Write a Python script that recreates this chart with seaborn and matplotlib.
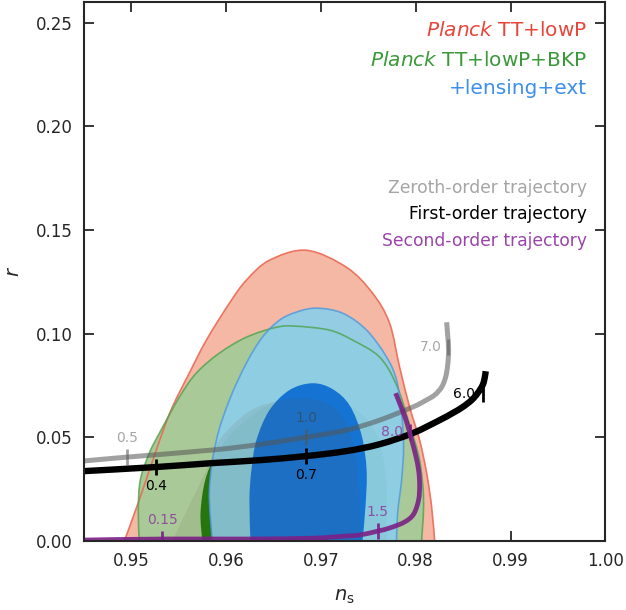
import numpy as np
import matplotlib
matplotlib.use("Agg")
import matplotlib.pyplot as plt
from matplotlib.path import Path
from matplotlib.patches import PathPatch
import seaborn as sns

# --- contour outlines (n_s, r) ---
red95_ns = [0.94926, 0.95084, 0.95300, 0.95433, 0.95612, 0.95792, 0.96035, 0.96214, 0.96457,
            0.96848, 0.97270, 0.97545, 0.97724, 0.97830, 0.97936, 0.98041, 0.98115, 0.98168, 0.98200]
red95_r = [0.000, 0.0198, 0.0487, 0.0646, 0.0810, 0.0969, 0.1147, 0.1258, 0.1354,
           0.1402, 0.1320, 0.1195, 0.1051, 0.0839, 0.0646, 0.0487, 0.0328, 0.0164, 0.000]

red68_ns = [0.95433, 0.95612, 0.95792, 0.95929, 0.96214, 0.96457, 0.96742, 0.97038,
            0.97249, 0.97376, 0.97408, 0.97418]
red68_r = [0.000, 0.0173, 0.0342, 0.0487, 0.0617, 0.0665, 0.0689, 0.0670,
           0.0583, 0.0390, 0.0198, 0.000]

green95_ns = [0.95084, 0.95074, 0.95095, 0.95190, 0.95296, 0.95507, 0.95686, 0.95929, 0.96214,
              0.96531, 0.96742, 0.97091, 0.97334, 0.97619, 0.97798, 0.97936, 0.98041, 0.98083, 0.98062]
green95_r = [0.000, 0.0149, 0.0294, 0.0424, 0.0520, 0.0694, 0.0810, 0.0906, 0.0983,
             0.1031, 0.1036, 0.1017, 0.0969, 0.0887, 0.0752, 0.0559, 0.0390, 0.0198, 0.000]

green68_ns = [0.95750, 0.95730, 0.95780, 0.95890, 0.96100, 0.96470, 0.96890, 0.97310,
              0.97580, 0.97690, 0.97690]
green68_r = [0.000, 0.0135, 0.0294, 0.0410, 0.0540, 0.0660, 0.0700, 0.0650,
             0.0520, 0.0290, 0.000]

blue95_ns = [0.95855, 0.95824, 0.95898, 0.96035, 0.96214, 0.96383, 0.96563, 0.96742, 0.96953,
             0.97228, 0.97482, 0.97693, 0.97798, 0.97851, 0.97872, 0.97851, 0.97809, 0.97798]
blue95_r = [0.000, 0.0246, 0.0487, 0.0680, 0.0858, 0.0983, 0.1065, 0.1104, 0.1123,
            0.1099, 0.1017, 0.0887, 0.0776, 0.0617, 0.0453, 0.0294, 0.0135, 0.000]

blue68_ns = [0.96257, 0.96246, 0.96267, 0.96320, 0.96457, 0.96668, 0.96911, 0.97122,
             0.97302, 0.97429, 0.97482, 0.97471, 0.97439]
blue68_r = [0.000, 0.0198, 0.0342, 0.0487, 0.0631, 0.0728, 0.0761, 0.0733,
            0.0655, 0.0511, 0.0342, 0.0173, 0.000]

# --- trajectories ---
zeroth_ns = [0.94493, 0.94958, 0.95855, 0.96352, 0.96848, 0.97270, 0.97619, 0.97967,
             0.98093, 0.98199, 0.98273, 0.98315, 0.98337, 0.98347, 0.98337, 0.98326]
zeroth_r = [0.0386, 0.0405, 0.0439, 0.0466, 0.0501, 0.0535, 0.0583, 0.0646,
            0.0675, 0.0704, 0.0742, 0.0790, 0.0848, 0.0920, 0.0993, 0.1055]

first_ns = [0.94493, 0.95264, 0.95855, 0.96352, 0.96848, 0.97270, 0.97619, 0.97967,
            0.98252, 0.98389, 0.98495, 0.98590, 0.98653, 0.98706, 0.98727, 0.98738]
first_r = [0.0337, 0.0357, 0.0376, 0.0390, 0.0410, 0.0434, 0.0467, 0.0520,
           0.0583, 0.0617, 0.0646, 0.0680, 0.0713, 0.0752, 0.0786, 0.0819]

second_ns = [0.94493, 0.95327, 0.96246, 0.96911, 0.97249, 0.97408, 0.97598, 0.97725, 0.97883,
             0.97978, 0.98030, 0.98041, 0.98030, 0.97999, 0.97957, 0.97904, 0.97851, 0.97788]
second_r = [0.0005, 0.0010, 0.0010, 0.0014, 0.0024, 0.0029, 0.0048, 0.0063, 0.0092,
            0.0130, 0.0198, 0.0270, 0.0342, 0.0414, 0.0487, 0.0574, 0.0641, 0.0713]

# tick marks on the trajectories and their labels
zeroth_tick_ns = [0.94958, 0.96848, 0.98342]
zeroth_tick_r = [0.0405, 0.0501, 0.0935]
zeroth_tick_lab = ["0.5", "1.0", "7.0"]

first_tick_ns = [0.95264, 0.96848, 0.98710]
first_tick_r = [0.0357, 0.0410, 0.0708]
first_tick_lab = ["0.4", "0.7", "6.0"]

second_tick_ns = [0.95327, 0.97598, 0.97936]
second_tick_r = [0.0010, 0.0048, 0.0525]
second_tick_lab = ["0.15", "1.5", "8.0"]


def smooth_path(xs, ys, closed_on_axis=False):
    # Catmull-Rom style Bezier path through the read points
    p = np.column_stack([xs, ys])
    verts = [p[0]]
    codes = [Path.MOVETO]
    n = len(p)
    for i in range(n - 1):
        p0 = p[max(i - 1, 0)]
        p1, p2 = p[i], p[i + 1]
        p3 = p[min(i + 2, n - 1)]
        verts += [p1 + (p2 - p0) / 6, p2 - (p3 - p1) / 6, p2]
        codes += [Path.CURVE4] * 3
    if closed_on_axis:
        verts += [p[0], p[0]]
        codes += [Path.LINETO, Path.CLOSEPOLY]
    return Path(verts, codes)


sns.set_style("ticks")
plt.rcParams['font.family'] = ['DejaVu Sans']
plt.rcParams['mathtext.fontset'] = 'dejavusans'

fig = plt.figure(figsize=(6.26, 6.10), dpi=100)
ax = fig.add_axes([0.134, 0.113, 0.833, 0.884])

regions = [
    (red95_ns, red95_r, "#F5B8A4", 1.0, 1),
    (green95_ns, green95_r, "#AAC998", 1.0, 2),
    (green68_ns, green68_r, "#217A0B", 1.0, 3),
    (blue95_ns, blue95_r, "#8ECEE7", 0.95, 4),
    (blue68_ns, blue68_r, "#1574D3", 1.0, 5),
    (red68_ns, red68_r, "#5A4A30", 0.10, 6),
]
for xs, ys, col, a, z in regions:
    ax.add_patch(PathPatch(smooth_path(xs, ys, True), facecolor=col, edgecolor="none",
                           alpha=a, zorder=z))

# contour edges
edges = [
    (red95_ns, red95_r, "#EB6955", 0.9),
    (green95_ns, green95_r, "#4FA24F", 0.8),
    (blue95_ns, blue95_r, "#4E98DC", 0.8),
]
for xs, ys, col, a in edges:
    ax.add_patch(PathPatch(smooth_path(xs, ys), facecolor="none", edgecolor=col,
                           lw=1.2, alpha=a, zorder=7))

# trajectories
traj = [
    (zeroth_ns, zeroth_r, zeroth_tick_ns, zeroth_tick_r, "#555555", 0.55, 3.6),
    (first_ns, first_r, first_tick_ns, first_tick_r, "black", 1.0, 4.6),
    (second_ns, second_r, second_tick_ns, second_tick_r, "#7B2085", 0.9, 3.4),
]
for xs, ys, tx, ty, col, a, lw in traj:
    ax.add_patch(PathPatch(smooth_path(xs, ys), facecolor="none", edgecolor=col,
                           lw=lw, alpha=a, capstyle="butt", joinstyle="round", zorder=8))
    sns.scatterplot(x=tx, y=ty, marker="|", s=121, linewidth=2, color=col, alpha=a,
                    ax=ax, zorder=9, legend=False)

lab_kw = dict(fontsize=10, zorder=10)
gcol = "#8A8A8A"
ax.text(zeroth_tick_ns[0], zeroth_tick_r[0] + 0.006, zeroth_tick_lab[0], color=gcol, alpha=0.75, ha="center", va="bottom", **lab_kw)
ax.text(zeroth_tick_ns[1], zeroth_tick_r[1] + 0.006, zeroth_tick_lab[1], color="#404040", alpha=0.6, ha="center", va="bottom", **lab_kw)
ax.text(zeroth_tick_ns[2] - 0.0007, zeroth_tick_r[2], zeroth_tick_lab[2], color=gcol, alpha=0.75, ha="right", va="center", **lab_kw)
ax.text(first_tick_ns[0], first_tick_r[0] - 0.006, first_tick_lab[0], color="black", ha="center", va="top", **lab_kw)
ax.text(first_tick_ns[1], first_tick_r[1] - 0.006, first_tick_lab[1], color="black", ha="center", va="top", **lab_kw)
ax.text(first_tick_ns[2] - 0.0008, first_tick_r[2], first_tick_lab[2], color="black", ha="right", va="center", **lab_kw)
pcol = "#8E3A9C"
ax.text(second_tick_ns[0], second_tick_r[0] + 0.006, second_tick_lab[0], color=pcol, alpha=0.85, ha="center", va="bottom", **lab_kw)
ax.text(second_tick_ns[1], second_tick_r[1] + 0.006, second_tick_lab[1], color=pcol, alpha=0.85, ha="center", va="bottom", **lab_kw)
ax.text(second_tick_ns[2] - 0.0007, second_tick_r[2], second_tick_lab[2], color=pcol, alpha=0.85, ha="right", va="center", **lab_kw)

# legend texts
tr = ax.transAxes
ax.text(0.965, 0.946, r"$\mathit{Planck}$ TT+lowP", color="#E8463A", fontsize=14.5, ha="right", va="center", transform=tr)
ax.text(0.965, 0.891, r"$\mathit{Planck}$ TT+lowP+BKP", color="#3A9A3A", fontsize=14.5, ha="right", va="center", transform=tr)
ax.text(0.965, 0.839, "+lensing+ext", color="#3C8FEA", fontsize=14.5, ha="right", va="center", transform=tr)
ax.text(0.965, 0.655, "Zeroth-order trajectory", color="#A5A5A5", fontsize=12.3, ha="right", va="center", transform=tr)
ax.text(0.965, 0.607, "First-order trajectory", color="black", fontsize=12.3, ha="right", va="center", transform=tr)
ax.text(0.965, 0.557, "Second-order trajectory", color="#9A44AA", fontsize=12.3, ha="right", va="center", transform=tr)

ax.set_xlim(0.945, 1.0)
ax.set_ylim(0.0, 0.26)
ax.set_xticks([0.95, 0.96, 0.97, 0.98, 0.99, 1.00])
ax.set_yticks([0.00, 0.05, 0.10, 0.15, 0.20, 0.25])
ax.xaxis.set_major_formatter(matplotlib.ticker.FormatStrFormatter("%.2f"))
ax.yaxis.set_major_formatter(matplotlib.ticker.FormatStrFormatter("%.2f"))
ax.tick_params(direction="in", top=True, right=True, length=7, width=1.3, labelsize=12, pad=8)
for s in ax.spines.values():
    s.set_linewidth(1.5)
    s.set_zorder(20)
ax.set_xlabel(r"$n_\mathrm{s}$", fontsize=14, labelpad=12)
ax.set_ylabel(r"$r$", fontsize=14, labelpad=9)

fig.savefig("out.png", dpi=100)
